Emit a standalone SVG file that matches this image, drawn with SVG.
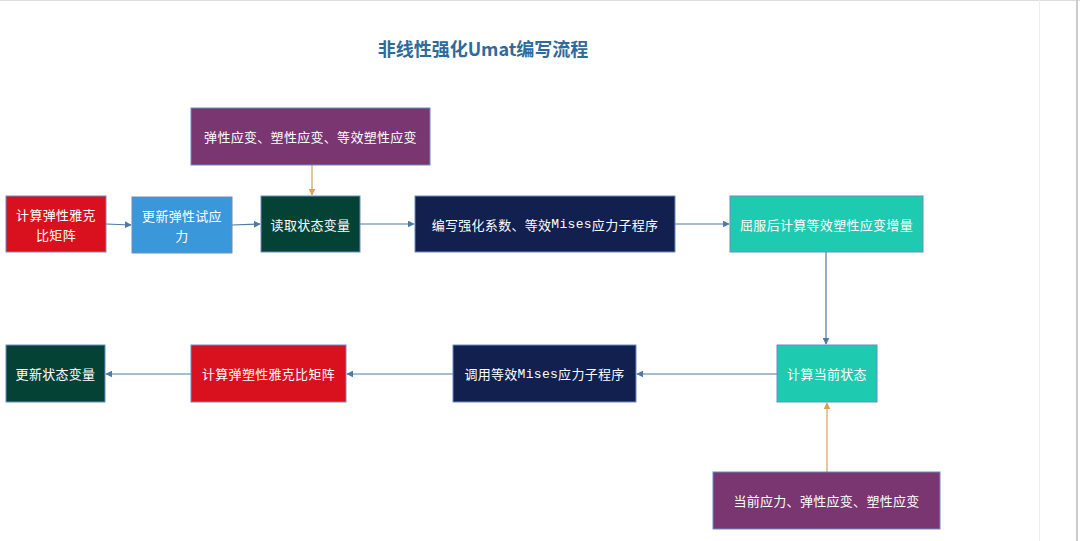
<svg xmlns="http://www.w3.org/2000/svg" width="1080" height="541" viewBox="0 0 1080 541">
<style>
.box{stroke:#6a8cc0;stroke-width:1}
.t{font-family:"Noto Sans CJK SC","Liberation Sans",sans-serif;font-size:13px;fill:#ffffff;text-anchor:middle;dominant-baseline:central;letter-spacing:0.3px}
.m{font-family:"Liberation Mono","Noto Sans CJK SC",monospace}
.c{fill:none;stroke:#4c7aa3;stroke-width:1.2}
.o{fill:none;stroke:#d9a15a;stroke-width:1.2}
.title{font-family:"Noto Sans CJK SC","Liberation Serif",serif;font-size:18px;font-weight:bold;fill:#2e6a9c;text-anchor:middle;dominant-baseline:central}
</style>
<defs>
<marker id="ab" viewBox="0 0 10 10" refX="9" refY="5" markerWidth="7" markerHeight="7" orient="auto-start-reverse" markerUnits="userSpaceOnUse"><path d="M0,0 L10,5 L0,10 z" fill="#4c7aa3"/></marker>
<marker id="ao" viewBox="0 0 10 10" refX="9" refY="5" markerWidth="7" markerHeight="7" orient="auto-start-reverse" markerUnits="userSpaceOnUse"><path d="M0,0 L10,5 L0,10 z" fill="#d9a15a"/></marker>
</defs>
<rect x="0" y="0" width="1080" height="541" fill="#ffffff"/>
<line x1="0" y1="0.5" x2="1080" y2="0.5" stroke="#dddddd"/>
<line x1="1039.5" y1="0" x2="1039.5" y2="541" stroke="#eeeeee"/>
<line x1="1077" y1="0" x2="1077" y2="541" stroke="#cccccc" stroke-width="2"/>
<text class="title" x="483" y="48">非线性强化Umat编写流程</text>
<g id="connectors">
<line class="c" x1="106" y1="224" x2="131" y2="225" marker-end="url(#ab)"/>
<line class="c" x1="232" y1="225" x2="260" y2="224" marker-end="url(#ab)"/>
<line class="c" x1="360" y1="224" x2="414" y2="224" marker-end="url(#ab)"/>
<line class="c" x1="675" y1="224" x2="729" y2="224" marker-end="url(#ab)"/>
<line class="c" x1="826" y1="252" x2="826" y2="344" marker-end="url(#ab)"/>
<line class="c" x1="777" y1="374" x2="637" y2="374" marker-end="url(#ab)"/>
<line class="c" x1="453" y1="374" x2="347" y2="374" marker-end="url(#ab)"/>
<line class="c" x1="191" y1="374" x2="106" y2="374" marker-end="url(#ab)"/>
<line class="o" x1="312" y1="165" x2="312" y2="195" marker-end="url(#ao)"/>
<line class="o" x1="827" y1="472" x2="827" y2="403" marker-end="url(#ao)"/>
</g>
<g id="n1"><rect class="box" x="6" y="196" width="100" height="56" fill="#d9101e"/><text class="t" x="56" y="214">计算弹性雅克</text><text class="t" x="56" y="234">比矩阵</text></g>
<g id="n2"><rect class="box" x="132" y="197" width="100" height="56" fill="#3a97d9"/><text class="t" x="182" y="215">更新弹性试应</text><text class="t" x="182" y="235">力</text></g>
<g id="n3"><rect class="box" x="261" y="196" width="99" height="56" fill="#044236"/><text class="t" x="310.5" y="224">读取状态变量</text></g>
<g id="n_top"><rect class="box" x="191" y="108" width="239" height="57" fill="#793671"/><text class="t" x="310.5" y="136.5">弹性应变、塑性应变、等效塑性应变</text></g>
<g id="n4"><rect class="box" x="415" y="196" width="260" height="56" fill="#12204f"/><text class="t" x="545" y="224">编写强化系数、等效<tspan class="m">Mises</tspan>应力子程序</text></g>
<g id="n5"><rect class="box" x="730" y="196" width="193" height="56" fill="#1ecab0"/><text class="t" x="826.5" y="224">屈服后计算等效塑性应变增量</text></g>
<g id="n6"><rect class="box" x="777" y="345" width="100" height="57" fill="#1ecab0"/><text class="t" x="827" y="373.5">计算当前状态</text></g>
<g id="n_bottom"><rect class="box" x="713" y="472" width="227" height="57" fill="#793671"/><text class="t" x="826.5" y="500.5">当前应力、弹性应变、塑性应变</text></g>
<g id="n7"><rect class="box" x="453" y="345" width="183" height="57" fill="#12204f"/><text class="t" x="544.5" y="373.5">调用等效<tspan class="m">Mises</tspan>应力子程序</text></g>
<g id="n8"><rect class="box" x="191" y="345" width="155" height="57" fill="#d9101e"/><text class="t" x="268.5" y="373.5">计算弹塑性雅克比矩阵</text></g>
<g id="n9"><rect class="box" x="6" y="345" width="99" height="57" fill="#044236"/><text class="t" x="55.5" y="373.5">更新状态变量</text></g>
</svg>
